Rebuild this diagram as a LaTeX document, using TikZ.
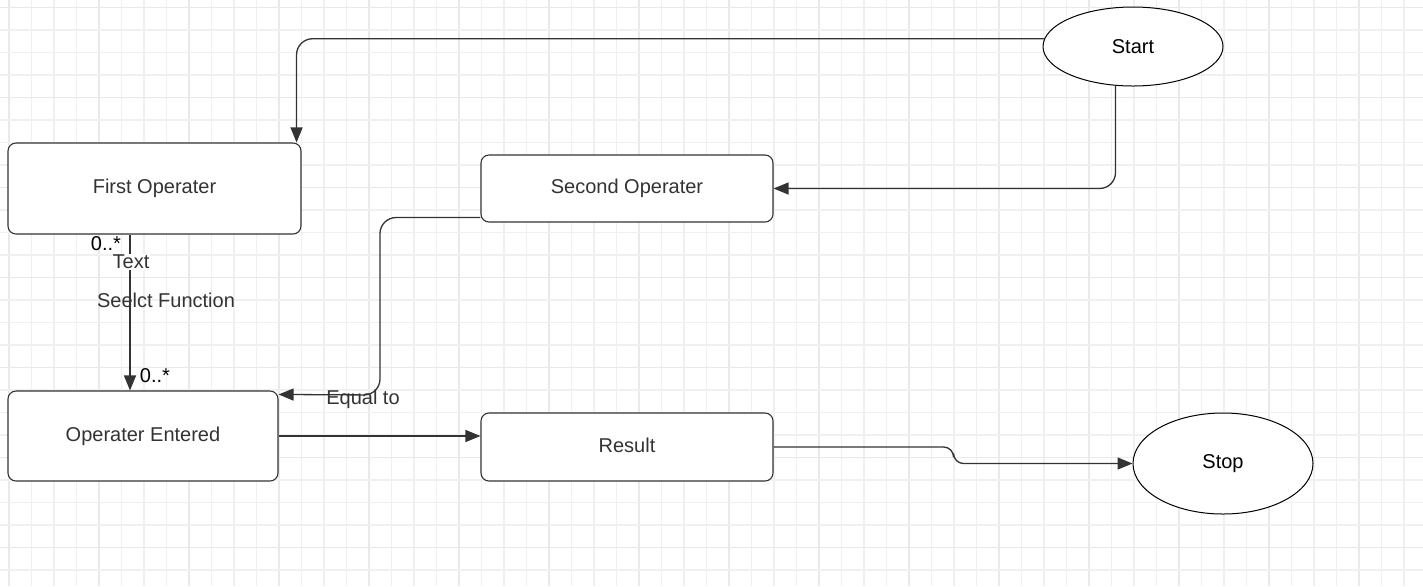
\documentclass[tikz,border=0pt]{standalone}
\usepackage{fontspec}
\setmainfont{Liberation Sans}
\usetikzlibrary{arrows.meta,shapes.geometric,calc}
\definecolor{gridminor}{HTML}{F0F0F0}
\definecolor{gridmajor}{HTML}{E9E9E9}
\definecolor{ink}{HTML}{333333}
\tikzset{
  box/.style={draw=ink, line width=0.55pt, rounded corners=4pt, inner sep=0pt, text=ink,
    font=\fontsize{10pt}{12pt}\selectfont},
  oval/.style={draw=black, line width=0.5pt, ellipse, inner sep=0pt, fill=white,
    font=\fontsize{10pt}{12pt}\selectfont},
  arr/.style={draw=ink, line width=0.65pt, -{Triangle[length=7.5pt,width=6pt]}},
  lbl/.style={text=ink, inner sep=1pt, font=\fontsize{10pt}{12pt}\selectfont},
}
\begin{document}
\begin{tikzpicture}[x=0.5pt,y=-0.5pt]
\useasboundingbox (0,0) rectangle (1423,586);
\fill[white] (0,0) rectangle (1423,586);
% grid
\foreach \k in {0,...,62} {
  \pgfmathsetmacro{\gx}{9+22.5*\k}
  \pgfmathtruncatemacro{\m}{mod(\k,4)}
  \ifnum\m=0
    \draw[gridmajor, line width=0.85pt] (\gx,0) -- (\gx,586);
  \else
    \draw[gridminor, line width=0.7pt] (\gx,0) -- (\gx,586);
  \fi
}
\foreach \k in {0,...,25} {
  \pgfmathsetmacro{\gy}{7.5+22.5*\k}
  \pgfmathtruncatemacro{\m}{mod(\k,4)}
  \ifnum\m=0
    \draw[gridmajor, line width=0.85pt] (0,\gy) -- (1423,\gy);
  \else
    \draw[gridminor, line width=0.7pt] (0,\gy) -- (1423,\gy);
  \fi
}
% nodes
\node[oval, minimum width=90pt, minimum height=39.5pt] (start) at (1133,46.5) {Start};
\node[oval, minimum width=90pt, minimum height=50.5pt] (stop) at (1223,463.5) {Stop};
\node[box, fill=white, minimum width=146.5pt, minimum height=45.5pt] (first) at (154.5,188.5) {\raisebox{1pt}{First Operater}};
\node[box, fill=white, minimum width=146pt, minimum height=33.5pt] (second) at (627,188.5) {Second Operater};
\node[box, fill=white, minimum width=135pt, minimum height=45pt] (entered) at (143,436) {\raisebox{1pt}{Operater Entered}};
\node[box, fill=white, minimum width=146pt, minimum height=34pt] (result) at (627,447) {\raisebox{1.5pt}{Result}};
% helper coordinates
\coordinate (c1) at ($(first.north east)+(-5,0)$);
\coordinate (s3) at ($(second.south west)+(0,-5)$);
\coordinate (k3) at (380,395);
\coordinate (e3) at ($(entered.north east)+(0,4)$);
\coordinate (c4) at (130,0);
% connectors
\draw[arr, rounded corners=8] (start.175) -| (c1);
\draw[arr, rounded corners=8] (start.246) |- (second.east);
\draw[arr, rounded corners=8] (s3) -| (k3) -- (e3);
\draw[arr] (first.south -| c4) -- (entered.north -| c4);
\draw[arr] (entered.east) -- (entered.east -| result.west);
\draw[arr, rounded corners=5] (result.east) -- ++(180,0) |- (stop.west);
% labels
\node[lbl, text=black] (m1) at (106,244) {0..*};
\node[lbl, fill=white, inner sep=0.5pt] (t1) at (131,262) {Text};
\node[lbl] (t2) at (166,300) {Seelct Function};
\node[lbl, text=black] (m2) at (155,376) {0..*};
\node[lbl] (t3) at (363,399) {Equal to};
\end{tikzpicture}
\end{document}
